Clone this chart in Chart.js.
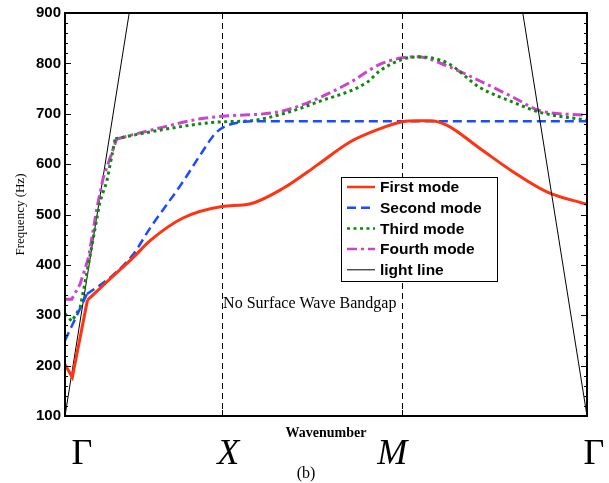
<!DOCTYPE html>
<html>
<head>
<meta charset="utf-8">
<script src="https://cdn.jsdelivr.net/npm/chart.js@4.4.0/dist/chart.umd.min.js"></script>
<style>
  html, body { margin: 0; padding: 0; background: #ffffff; }
  #wrap { width: 609px; height: 483px; }
</style>
</head>
<body>
<div id="wrap"><canvas id="c" width="609" height="483"></canvas></div>
<script>
// ---- data (wavenumber position 0..100 along Γ–X–M–Γ, frequency in Hz) ----
const symPoints = [0, 30.1, 64.6, 100];
const symLabels = ['Γ', 'X', 'M', 'Γ'];
const yTicks = [100, 200, 300, 400, 500, 600, 700, 800, 900];
const seriesNames = ['First mode', 'Second mode', 'Third mode', 'Fourth mode', 'light line'];

// near-Γ segments (piecewise straight) and the smooth remainder of each mode
const firstHeadK = [0, 1.4, 4.3];
const firstHeadF = [202, 177, 330];
const firstK = [4.3, 8.6, 13.0, 16.3, 22.6, 30.1, 35.4, 41.8, 48.3, 54.6, 60.3, 64.6, 67.4, 69.9, 73.2, 79.5, 85.8, 92.3, 100];
const firstF = [330, 372, 414, 448, 493, 516, 521, 552, 598, 644, 670, 684, 686, 686, 677, 631, 585, 545, 520];

const secondHeadK = [0, 4.2];
const secondHeadF = [250, 342];
const secondK = [4.2, 9.0, 13.0, 16.3, 22.6, 25.9, 29.1, 33.4, 36.0, 50, 64.6, 80, 100];
const secondF = [342, 378, 420, 473, 565, 618, 664, 683, 685, 685, 685, 685, 685];

const thirdHeadK = [0, 1.3, 2.9, 4.5, 6.7, 8.0, 9.6];
const thirdHeadF = [303, 288, 315, 401, 526, 565, 650];
const thirdK = [9.6, 16.3, 25.9, 30.1, 35.4, 41.8, 48.3, 57.8, 60.3, 64.6, 67.5, 73.2, 79.5, 85.8, 91.0, 100];
const thirdF = [650, 664, 680, 684, 686, 700, 723, 762, 785, 808, 813, 801, 752, 723, 703, 687];

const fourthHeadK = [0, 1.3, 2.9, 4.5, 6.1, 7.3, 9.9];
const fourthHeadF = [332, 332, 362, 414, 512, 572, 650];
const fourthK = [9.9, 16.3, 25.9, 30.1, 40.5, 45.0, 54.6, 60.3, 64.6, 67.5, 73.2, 79.5, 85.8, 91.0, 100];
const fourthF = [650, 667, 690, 695, 703, 716, 762, 798, 811, 813, 795, 765, 733, 706, 697];

const lightK = [0, 12.3, 50, 87.7, 100];
const lightF = [100, 900, null, 900, 100];

function pts(k, f) { return k.map((x, i) => ({ x: x, y: f[i] })); }

const SERIF = '"Liberation Serif", "Times New Roman", serif';
const SANS = '"Liberation Sans", Arial, sans-serif';

const styles = [
  { borderColor: '#ff3311', borderWidth: 3, borderDash: [] },
  { borderColor: '#1a4cff', borderWidth: 2.5, borderDash: [9, 5] },
  { borderColor: '#0b8a0b', borderWidth: 3, borderDash: [3, 3.5] },
  { borderColor: '#cc44cc', borderWidth: 3, borderDash: [10, 4, 3, 4] },
  { borderColor: '#000000', borderWidth: 1, borderDash: [] }
];

// ---- plugin: frame, inward ticks, dashed symmetry lines, annotations, legend ----
const decor = {
  id: 'decor',
  beforeDatasetsDraw(chart) {
    const { ctx, chartArea: a, scales: { x } } = chart;
    ctx.save();
    ctx.strokeStyle = '#000';
    ctx.lineWidth = 1;
    ctx.setLineDash([6, 4]);
    [symPoints[1], symPoints[2]].forEach(v => {
      const px = Math.round(x.getPixelForValue(v)) + 0.5;
      ctx.beginPath();
      ctx.moveTo(px, a.top);
      ctx.lineTo(px, a.bottom);
      ctx.stroke();
    });
    ctx.setLineDash([]);
    ctx.restore();
  },
  afterDatasetsDraw(chart) {
    const { ctx, chartArea: a, scales: { x, y } } = chart;
    ctx.save();
    ctx.strokeStyle = '#000';
    ctx.lineWidth = 1;
    for (let v = 100; v <= 900; v += 20) {
      const py = Math.round(y.getPixelForValue(v)) + 0.5;
      const len = (v % 100 === 0) ? 6 : 3;
      ctx.beginPath();
      ctx.moveTo(a.left, py); ctx.lineTo(a.left + len, py);
      ctx.moveTo(a.right, py); ctx.lineTo(a.right - len, py);
      ctx.stroke();
    }
    [symPoints[1], symPoints[2]].forEach(v => {
      const px = Math.round(x.getPixelForValue(v)) + 0.5;
      ctx.beginPath();
      ctx.moveTo(px, a.bottom); ctx.lineTo(px, a.bottom - 6);
      ctx.moveTo(px, a.top); ctx.lineTo(px, a.top + 6);
      ctx.stroke();
    });
    ctx.lineWidth = 2;
    ctx.strokeRect(a.left, a.top, a.right - a.left, a.bottom - a.top);

    ctx.fillStyle = '#000';
    ctx.font = '16px ' + SERIF;
    ctx.textAlign = 'left';
    ctx.textBaseline = 'alphabetic';
    ctx.fillText('No Surface Wave Bandgap', x.getPixelForValue(symPoints[1]) + 1, 308);

    ctx.save();
    ctx.translate(21, (a.top + a.bottom) / 2);
    ctx.rotate(-Math.PI / 2);
    ctx.textAlign = 'center';
    ctx.textBaseline = 'middle';
    ctx.font = '13px ' + SERIF;
    ctx.fillText('Frequency (Hz)', 0, 0);
    ctx.restore();

    ctx.textAlign = 'center';
    ctx.font = 'bold 14px ' + SERIF;
    ctx.fillText('Wavenumber', 326, 437);

    const offs = [17, 6, -10, 7];
    symLabels.forEach((t, i) => {
      const italic = (t === 'X' || t === 'M');
      ctx.font = (italic ? 'italic ' : '') + '36px ' + SERIF;
      ctx.fillText(t, x.getPixelForValue(symPoints[i]) + offs[i], 464);
    });
    ctx.font = '16px ' + SERIF;
    ctx.fillText('(b)', 306, 478);

    // legend
    const lx = 341, ly = 177, lw = 156, lh = 104;
    ctx.fillStyle = '#fff';
    ctx.fillRect(lx, ly, lw, lh);
    ctx.lineWidth = 1;
    ctx.strokeStyle = '#000';
    ctx.strokeRect(lx + 0.5, ly + 0.5, lw, lh);
    ctx.font = 'bold 15.5px ' + SANS;
    ctx.textAlign = 'left';
    ctx.textBaseline = 'middle';
    let i = 0;
    chart.data.datasets.forEach(ds => {
      if (ds.hideInLegend) return;
      const cy = ly + 10 + i * 20.7;
      ctx.strokeStyle = ds.borderColor;
      ctx.lineWidth = Math.min(ds.borderWidth, 2.5);
      ctx.setLineDash(ds.borderDash || []);
      ctx.beginPath();
      ctx.moveTo(347, cy); ctx.lineTo(375, cy);
      ctx.stroke();
      ctx.setLineDash([]);
      ctx.fillStyle = '#000';
      ctx.fillText(ds.label, 380, cy + 1);
      i++;
    });
    ctx.restore();
  }
};

function head(idx, k, f) {
  return Object.assign({ label: seriesNames[idx], data: pts(k, f), pointRadius: 0, fill: false, tension: 0 }, styles[idx]);
}
function tail(idx, k, f) {
  return Object.assign({ label: seriesNames[idx], data: pts(k, f), pointRadius: 0, fill: false, cubicInterpolationMode: 'monotone', hideInLegend: true }, styles[idx]);
}

new Chart(document.getElementById('c'), {
  type: 'line',
  data: {
    datasets: [
      head(0, firstHeadK, firstHeadF),
      head(1, secondHeadK, secondHeadF),
      head(2, thirdHeadK, thirdHeadF),
      head(3, fourthHeadK, fourthHeadF),
      Object.assign(head(4, lightK, lightF), { spanGaps: false }),
      tail(0, firstK, firstF),
      tail(1, secondK, secondF),
      tail(2, thirdK, thirdF),
      tail(3, fourthK, fourthF)
    ]
  },
  options: {
    responsive: false,
    animation: false,
    layout: { padding: { left: 0, top: 10, right: 22, bottom: 0 } },
    plugins: { legend: { display: false }, tooltip: { enabled: false } },
    scales: {
      x: {
        type: 'linear', min: 0, max: 100,
        grid: { display: false }, border: { display: false },
        ticks: { display: false },
        afterFit(s) { s.height = 67; }
      },
      y: {
        type: 'linear', min: 100, max: 900,
        grid: { display: false, drawTicks: false }, border: { display: false },
        afterBuildTicks(s) { s.ticks = yTicks.map(v => ({ value: v })); },
        ticks: { padding: 4, color: '#000', font: { family: SANS, size: 15, weight: 'bold' } },
        afterFit(s) { s.width = 65; }
      }
    }
  },
  plugins: [decor]
});
</script>
</body>
</html>
